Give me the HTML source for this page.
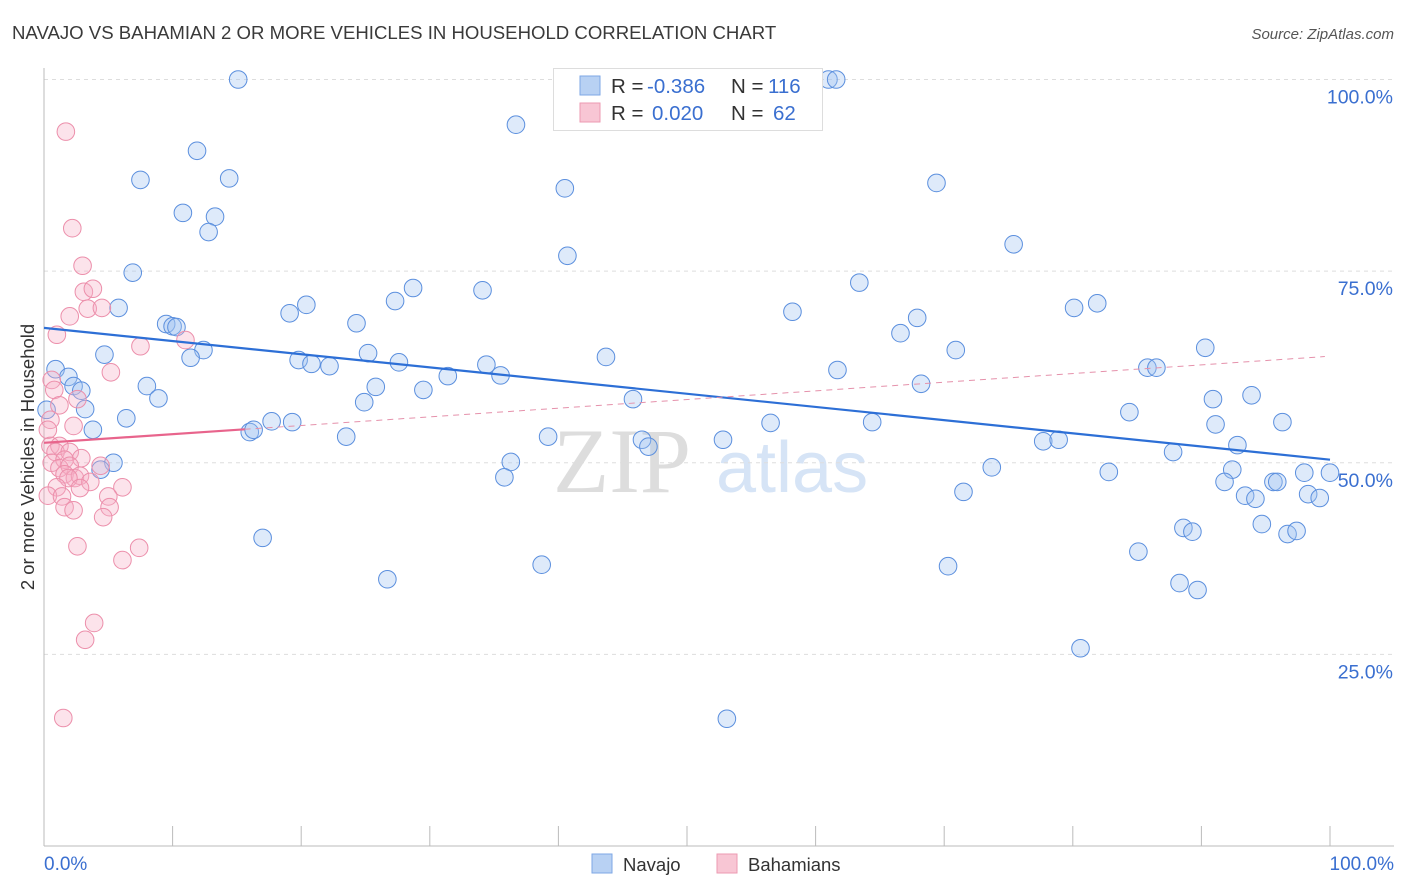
<!DOCTYPE html>
<html><head><meta charset="utf-8"><style>
body{margin:0;background:#fff;font-family:"Liberation Sans",sans-serif}
svg{display:block}
</style></head><body>
<svg width="1406" height="892" viewBox="0 0 1406 892">
<text x="12" y="39" font-size="18.6" fill="#3a3a3a">NAVAJO VS BAHAMIAN 2 OR MORE VEHICLES IN HOUSEHOLD CORRELATION CHART</text>
<text x="1394" y="39" font-size="15" fill="#555" font-style="italic" text-anchor="end">Source: ZipAtlas.com</text>
<g>
<text x="553" y="492" font-size="92" fill="#ddd" font-family="Liberation Serif,serif">ZIP</text>
<text x="716" y="492" font-size="72" fill="#d6e4f6">atlas</text>
</g>
<g id="grid"></g>
<g id="axes"></g>
<g id="marks"></g>
<g>
<rect x="553.5" y="68.5" width="269" height="62" fill="#fff" stroke="#ddd"/>
<rect x="580" y="76" width="20" height="19" fill="#b8d1f3" stroke="#7ea7e6"/>
<rect x="580" y="103" width="20" height="19" fill="#f8c6d4" stroke="#ec9ab2"/>
<text y="93" font-size="20.5"><tspan x="611" fill="#333">R = </tspan><tspan x="647" fill="#3a6fd0">-0.386</tspan><tspan x="731" fill="#333">N = </tspan><tspan x="768" fill="#3a6fd0">116</tspan></text>
<text y="120" font-size="20.5"><tspan x="611" fill="#333">R = </tspan><tspan x="652" fill="#3a6fd0">0.020</tspan><tspan x="731" fill="#333">N = </tspan><tspan x="773" fill="#3a6fd0">62</tspan></text>
</g>
<g>
<rect x="592" y="854" width="20" height="19" fill="#b8d1f3" stroke="#7ea7e6"/>
<text x="623" y="871" font-size="18.5" fill="#333">Navajo</text>
<rect x="717" y="854" width="20" height="19" fill="#f8c6d4" stroke="#ec9ab2"/>
<text x="748" y="871" font-size="18.5" fill="#333">Bahamians</text>
</g>
<text x="28" y="457" font-size="18.5" fill="#333" text-anchor="middle" transform="rotate(-90 28 457)" dy="6">2 or more Vehicles in Household</text>
<text x="44" y="870" font-size="19" fill="#3a6fd0">0.0%</text>
<text x="1394" y="870" font-size="19" fill="#3a6fd0" text-anchor="end">100.0%</text>
</svg>
<script>
const navajoX=[15.1,61.0,61.6,36.7,11.9,7.5,14.4,40.5,69.4,10.8,13.3,12.8,40.7,75.4,6.9,63.4,28.7,34.1,20.4,19.1,27.3,5.8,58.2,80.1,81.9,67.9,9.5,10.0,10.3,24.3,66.6,12.4,11.4,4.7,25.2,19.8,20.8,22.2,27.6,43.7,70.9,90.3,34.4,35.5,31.4,61.7,85.8,86.5,0.9,1.9,2.3,2.9,8.0,25.8,29.5,68.2,8.9,24.9,45.8,90.9,93.9,3.2,0.2,6.4,17.7,19.3,56.5,64.4,84.4,96.3,91.1,3.8,16.0,16.3,23.5,39.2,46.5,47.0,52.8,77.7,78.9,92.8,87.8,5.4,4.4,36.3,35.8,73.7,82.8,92.4,98.0,100,91.8,95.6,95.9,71.5,93.4,94.2,98.3,99.2,94.7,88.6,89.3,96.7,97.4,17.0,85.1,38.7,70.3,26.7,88.3,89.7,80.6,53.1];
const navajoY=[100,100,100,94.1,90.7,86.9,87.1,85.8,86.5,82.6,82.1,80.1,77.0,78.5,74.8,73.5,72.8,72.5,70.6,69.5,71.1,70.2,69.7,70.2,70.8,68.9,68.1,67.8,67.7,68.2,66.9,64.7,63.7,64.1,64.3,63.4,62.9,62.6,63.1,63.8,64.7,65.0,62.8,61.4,61.3,62.1,62.4,62.4,62.2,61.2,60.0,59.4,60.0,59.9,59.5,60.3,58.4,57.9,58.3,58.3,58.8,57.0,56.9,55.8,55.4,55.3,55.2,55.3,56.6,55.3,55.0,54.3,54.0,54.3,53.4,53.4,53.0,52.1,53.0,52.8,53.0,52.3,51.4,50.0,49.1,50.1,48.1,49.4,48.8,49.1,48.7,48.7,47.5,47.5,47.5,46.2,45.7,45.3,45.9,45.4,42.0,41.5,41.0,40.7,41.1,40.2,38.4,36.7,36.5,34.8,34.3,33.4,25.8,16.6];
const bahX=[1.7,2.2,3.0,3.1,3.8,3.4,4.5,2.0,1.0,11.0,7.5,5.2,0.6,0.8,2.6,1.2,0.5,2.3,0.3,0.5,1.2,0.9,2.0,2.9,0.6,1.6,1.2,2.0,1.6,2.4,4.4,2.8,1.9,3.6,1.0,2.8,6.1,0.3,1.4,5.0,5.1,1.6,2.3,4.6,2.6,7.4,6.1,3.9,3.2,1.5];
const bahY=[93.2,80.6,75.7,72.3,72.7,70.1,70.2,69.1,66.7,66.0,65.2,61.8,60.8,59.5,58.3,57.5,55.6,54.8,54.3,52.2,52.2,51.4,51.4,50.6,50.0,50.4,49.3,49.6,48.5,48.0,49.6,48.3,48.0,47.5,46.8,46.7,46.8,45.7,45.6,45.6,44.2,44.2,43.8,42.9,39.1,38.9,37.3,29.1,26.9,16.7];
const navajoTrend=[67.6,50.4];   // y at x=0 and x=100
const bahTrend=[52.6,63.9];       // y at x=0 and x=100
const yTicks=[25,50,75,100];
const yTickLabels=["25.0%","50.0%","75.0%","100.0%"];
const xTicks=[0,10,20,30,40,50,60,70,80,90,100];

const NS="http://www.w3.org/2000/svg";
const sx=v=>44+v*12.86, sy=v=>846-v*7.665;
function mk(tag,attrs,parent){const e=document.createElementNS(NS,tag);for(const k in attrs)e.setAttribute(k,attrs[k]);document.getElementById(parent).appendChild(e);return e;}
yTicks.forEach((t,i)=>{
 const g=mk('line',{x1:44,x2:1394,y1:sy(t),y2:sy(t),stroke:'#ddd','stroke-dasharray':'4 4'},'grid');
 
 
 const l=mk('text',{x:1393,y:sy(t)+24,'font-size':19.5,fill:'#3a6fd0','text-anchor':'end'},'grid');
 l.textContent=yTickLabels[i];
 
 
});
let a=mk('line',{x1:44,x2:44,y1:68,y2:846,stroke:'#bbb'},'axes');


a=mk('line',{x1:44,x2:1394,y1:846,y2:846,stroke:'#bbb'},'axes');


xTicks.forEach(t=>{const k=mk('line',{x1:sx(t),x2:sx(t),y1:826,y2:846,stroke:'#bbb'},'axes');
 
 });
navajoX.forEach((x,i)=>{const c=mk('circle',{cx:sx(x),cy:sy(navajoY[i]),r:8.8,fill:'rgba(160,196,242,0.35)',stroke:'#5b8fde','stroke-width':1},'marks');
 
 });
bahX.forEach((x,i)=>{const c=mk('circle',{cx:sx(x),cy:sy(bahY[i]),r:8.8,fill:'rgba(245,175,198,0.35)',stroke:'#ec8fab','stroke-width':1},'marks');
 
 });
let t=mk('line',{x1:sx(0),y1:sy(navajoTrend[0]),x2:sx(100),y2:sy(navajoTrend[1]),stroke:'#2d6fd6','stroke-width':2.2},'marks');


const by=x=>bahTrend[0]+(bahTrend[1]-bahTrend[0])*x/100;
t=mk('line',{x1:sx(15.6),y1:sy(by(15.6)),x2:sx(99.6),y2:sy(by(99.6)),stroke:'#e591ab','stroke-width':1,'stroke-dasharray':'6 5'},'marks');


t=mk('line',{x1:sx(0),y1:sy(by(0)),x2:sx(15.6),y2:sy(by(15.6)),stroke:'#e8648c','stroke-width':2.2},'marks');


</script>
</body></html>
